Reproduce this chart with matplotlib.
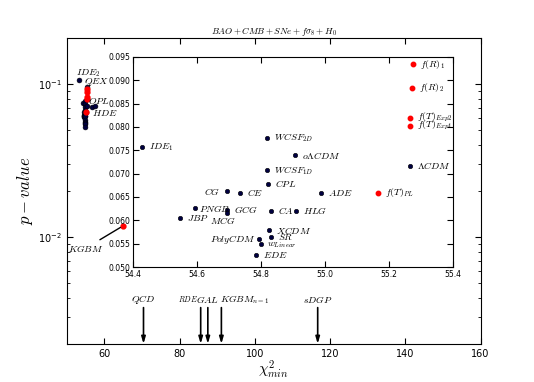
import numpy as np
import matplotlib
matplotlib.use('Agg')
import matplotlib.pyplot as plt

plt.rcParams['mathtext.fontset'] = 'cm'
plt.rcParams['xtick.direction'] = 'in'
plt.rcParams['ytick.direction'] = 'in'
plt.rcParams['xtick.top'] = True
plt.rcParams['ytick.right'] = True
plt.rcParams['xtick.major.size'] = 4
plt.rcParams['ytick.major.size'] = 4
plt.rcParams['xtick.minor.size'] = 2
plt.rcParams['ytick.minor.size'] = 2

# models shown in the zoomed panel (chi2_min, p-value)
inset_names = [r'$IDE_1$', r'$WCSF_{2D}$', r'$o\Lambda CDM$', r'$WCSF_{1D}$', r'$CPL$',
               r'$CG$', r'$CE$', r'$ADE$', r'$\Lambda CDM$', r'$PNGB$', r'$GCG$', r'$MCG$',
               r'$JBP$', r'$CA$', r'$HLG$', r'$XCDM$', r'$SR$', r'$PolyCDM$',
               r'$w_{Linear}$', r'$EDE$',
               r'$f(R)_1$', r'$f(R)_2$', r'$f(T)_{Exp2}$', r'$f(T)_{Exp1}$', r'$f(T)_{PL}$']
inset_chi2 = [54.427, 54.820, 54.908, 54.820, 54.823,
              54.694, 54.735, 54.988, 55.266, 54.594, 54.695, 54.695,
              54.547, 54.830, 54.909, 54.826, 54.832, 54.795,
              54.799, 54.784,
              55.274, 55.271, 55.265, 55.265, 55.166]
inset_p = [0.0756, 0.0777, 0.0739, 0.0707, 0.0678,
           0.0662, 0.0659, 0.0659, 0.0717, 0.0626, 0.0623, 0.0616,
           0.0606, 0.0621, 0.0621, 0.0579, 0.0564, 0.0559,
           0.0550, 0.0525,
           0.0934, 0.0884, 0.0819, 0.0803, 0.0659]
inset_red = [False] * 20 + [True] * 5

# models only labelled in the large panel
main_names = [r'$IDE_2$', r'$QEX$', r'$OPL$', r'$HDE$', r'$KGBM$']
main_chi2 = [53.2, 55.5, 56.8, 57.4, 64.9]
main_p = [0.1066, 0.096, 0.0705, 0.0715, 0.0118]
main_red = [False, False, False, False, True]

# models outside the p-value range (marked by arrows)
arrow_names = [r'$QCD$', r'$RDE$', r'$GAL$', r'$KGBM_{n=1}$', r'$sDGP$']
arrow_chi2 = [70.4, 85.6, 87.5, 91.1, 116.7]

# label offsets in pixels (dx, dy, ha)
inset_off = {r'$CG$': (-7, 0, 'right'), r'$MCG$': (-4, -8, 'center'),
             r'$PolyCDM$': (-4, 0, 'right'), r'$PNGB$': (4, 0, 'left'),
             r'$f(T)_{Exp2}$': (7, 1, 'left'), r'$w_{Linear}$': (6, -1, 'left')}
main_off = {r'$IDE_2$': (-3, 7, 'left'), r'$QEX$': (-3, 5, 'left'),
            r'$OPL$': (-4, 6, 'left'), r'$HDE$': (-3, -7, 'left')}

navy = '#000040'

fig = plt.figure(figsize=(5.34, 3.82), dpi=100)
ax = fig.add_axes([0.125, 0.1, 0.775, 0.8])

all_chi2 = np.array(inset_chi2 + main_chi2)
all_p = np.array(inset_p + main_p)
all_red = np.array(inset_red + main_red)
ax.plot(all_chi2[~all_red], all_p[~all_red], 'o', color=navy, mec='k', mew=0.4, ms=3.5)
ax.plot(all_chi2[all_red], all_p[all_red], 'o', color='r', mec='r', ms=3.5)

for name, x, y in zip(main_names, main_chi2, main_p):
    if name == r'$KGBM$':
        ax.annotate(name, xy=(x, y), xytext=(-19, -22), textcoords='offset pixels',
                    ha='right', va='center', fontsize=7,
                    arrowprops=dict(arrowstyle='-', color='k', lw=1.0, shrinkA=0, shrinkB=2))
    else:
        dx, dy, ha = main_off[name]
        ax.annotate(name, xy=(x, y), xytext=(dx, dy), textcoords='offset pixels',
                    ha=ha, va='center', fontsize=7)

for name, x in zip(arrow_names, arrow_chi2):
    ax.annotate('', xy=(x, 0.002), xytext=(x, 0.00345),
                arrowprops=dict(arrowstyle='-|>,head_length=0.4,head_width=0.12',
                                color='k', lw=1.2, shrinkA=0, shrinkB=0))
    if name == r'$RDE$':
        ax.text(x - 0.8, 0.0039, name, ha='right', va='center', fontsize=5.5)
    elif name == r'$KGBM_{n=1}$':
        ax.text(x - 0.3, 0.0039, name, ha='left', va='center', fontsize=7)
    else:
        ax.text(x, 0.0039, name, ha='center', va='center', fontsize=7)

ax.set_yscale('log')
ax.set_xlim(50, 160)
ax.set_ylim(0.002, 0.2)
ax.set_xticks([60, 80, 100, 120, 140, 160])
ax.tick_params(labelsize=7)
ax.set_xlabel(r'$\chi^2_{min}$', fontsize=11, labelpad=0)
ax.set_ylabel(r'$p-value$', fontsize=12, labelpad=2)
ax.set_title(r'$BAO+CMB+SNe+f\sigma_8+H_0$', fontsize=6.5, pad=3)

# zoomed panel
ins = fig.add_axes([0.249, 0.301, 0.599, 0.550])
ic = np.array(inset_chi2)
ip = np.array(inset_p)
ir = np.array(inset_red)
ins.plot(ic[~ir], ip[~ir], 'o', color=navy, mec='k', mew=0.4, ms=3.2)
ins.plot(ic[ir], ip[ir], 'o', color='r', mec='r', ms=3.2)
for name, x, y in zip(inset_names, inset_chi2, inset_p):
    dx, dy, ha = inset_off.get(name, (7, 0, 'left'))
    ins.annotate(name, xy=(x, y), xytext=(dx, dy), textcoords='offset pixels',
                 ha=ha, va='center', fontsize=7)
ins.set_xlim(54.4, 55.4)
ins.set_ylim(0.050, 0.095)
ins.set_xticks(np.arange(54.4, 55.41, 0.2))
ins.set_yticks(np.arange(0.050, 0.0951, 0.005))
ins.set_xticklabels(['54.4', '54.6', '54.8', '55.0', '55.2', '55.4'])
ins.set_yticklabels(['%.3f' % v for v in np.arange(0.050, 0.0951, 0.005)])
ins.tick_params(labelsize=5.5, pad=2)

fig.savefig('out.png', dpi=100, facecolor='white')
